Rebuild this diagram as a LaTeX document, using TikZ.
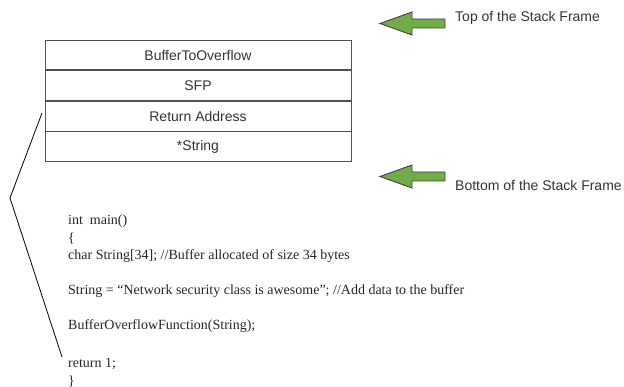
\documentclass[tikz,border=0pt]{standalone}
\usepackage{fontspec}
\setmainfont{Liberation Serif}
\newfontfamily\labelfont{Liberation Sans}
\usetikzlibrary{positioning}

\definecolor{arrowgreen}{RGB}{112,173,71}
\definecolor{textgray}{RGB}{51,51,51}
\definecolor{linegray}{RGB}{80,80,80}

\tikzset{
  frame/.style={draw=linegray, line width=0.8pt, minimum width=306pt, minimum height=29.8pt,
    inner sep=0pt, font=\labelfont\fontsize{14}{16}\selectfont, text=textgray},
  tag/.style={anchor=west, inner sep=0pt, font=\labelfont\fontsize{14}{16}\selectfont, text=textgray},
  code/.style={align=left, inner sep=0pt, font=\fontsize{14}{17.5}\selectfont, text=black!85},
  pics/stackarrow/.style={code={
    \filldraw[fill=arrowgreen, draw=black!75, line width=0.9pt]
      (0,0) -- (32,-11.5) -- (32,-4.5) -- (65,-4.5) -- (65,4.5) -- (32,4.5) -- (32,11.5) -- cycle;
  }}
}

\begin{document}
\begin{tikzpicture}[x=1pt, y=-1pt, node distance=0pt]
  \useasboundingbox (0,0) rectangle (624,387);

  % the stack frame
  \node[frame] (buf) at (198,55) {BufferToOverflow};
  \node[frame] (sfp) [below=of buf] {SFP};
  \node[frame] (ret) [below=of sfp] {Return Address};
  \node[frame] (str) [below=of ret] {*String};

  % markers on the right
  \pic at (380,23.5) {stackarrow};
  \pic at (380,176.5) {stackarrow};
  \node[tag] (toplbl) at (455,18) {Top of the Stack Frame};
  \node[tag] (botlbl) at (455,185) {Bottom of the Stack Frame};

  % the calling code (base = last line)
  \node[code, anchor=base west] (mainfn) at (68,385) {int\ \ main()\\
    \{\\
    char String[34]; //Buffer allocated of size 34 bytes\\[17.5pt]
    String = “Network security class is awesome”; //Add data to the buffer\\[17.5pt]
    BufferOverflowFunction(String);\\[20.5pt]
    return 1;\\
    \}};

  \coordinate (brtop) at (42,113);
  \coordinate (brmid) at (10,198);
  \coordinate (brbot) at (62,357);
  \draw[line width=0.8pt] (brtop) -- (brmid) -- (brbot);
\end{tikzpicture}
\end{document}
